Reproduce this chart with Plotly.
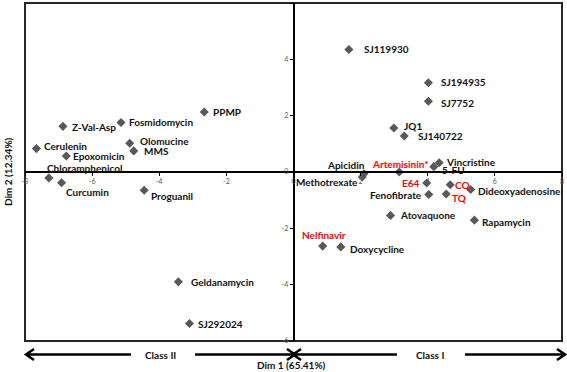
import plotly.graph_objects as go

# ---------------- data ----------------
names = ["PPMP", "Fosmidomycin", "Z-Val-Asp", "Cerulenin", "Epoxomicin", "Olomucine", "MMS",
         "Chloramphenicol", "Curcumin", "Proguanil", "Geldanamycin", "SJ292024",
         "SJ119930", "SJ194935", "SJ7752", "JQ1", "SJ140722", "Vincristine", "5-FU",
         "Artemisinin*", "Apicidin", "Methotrexate", "E64", "CQ", "Dideoxyadenosine",
         "Fenofibrate", "TQ", "Atovaquone", "Rapamycin", "Nelfinavir", "Doxycycline"]
dim1 = [-2.66, -5.14, -6.87, -7.66, -6.77, -4.88, -4.76,
        -7.29, -6.91, -4.45, -3.43, -3.10,
        1.65, 4.02, 4.02, 2.99, 3.30, 4.34, 4.18,
        3.15, 2.10, 2.05, 3.97, 4.67, 5.28,
        4.03, 4.55, 2.89, 5.39, 0.87, 1.41]
dim2 = [2.13, 1.76, 1.62, 0.83, 0.57, 1.02, 0.75,
        -0.21, -0.38, -0.65, -3.90, -5.38,
        4.35, 3.17, 2.51, 1.56, 1.28, 0.33, 0.19,
        0.00, -0.06, -0.18, -0.39, -0.45, -0.62,
        -0.80, -0.78, -1.54, -1.71, -2.63, -2.66]
highlighted = ["Artemisinin*", "E64", "CQ", "TQ", "Nelfinavir"]
x_ticks = [-8, -6, -4, -2, 0, 2, 4, 6, 8]
y_ticks = [-6, -4, -2, 0, 2, 4, 6]

# ---------------- label placement (style) ----------------
# name: (xanchor, xshift, yshift)
placement = {
    "PPMP": ("left", 7, 0), "Fosmidomycin": ("left", 6, 0), "Z-Val-Asp": ("left", 7, -1),
    "Cerulenin": ("left", 6, 3), "Epoxomicin": ("left", 5, 0), "Olomucine": ("left", 8, 2),
    "MMS": ("left", 8, 0), "Chloramphenicol": ("left", -4, 10), "Curcumin": ("left", 2, -9),
    "Proguanil": ("left", 5, -6), "Geldanamycin": ("left", 11, 0), "SJ292024": ("left", 7, 0),
    "SJ119930": ("left", 13, 0), "SJ194935": ("left", 11, 1), "SJ7752": ("left", 11, -1.5),
    "JQ1": ("left", 8, 2), "SJ140722": ("left", 12, 0), "Vincristine": ("left", 5, 1),
    "5-FU": ("left", 6, -3), "Artemisinin*": ("center", 1, 8), "Apicidin": ("right", 3, 9),
    "Methotrexate": ("right", -2, -5), "E64": ("right", -5, 0), "CQ": ("left", 3, 0),
    "Dideoxyadenosine": ("left", 5, -2), "Fenofibrate": ("right", -5, 0), "TQ": ("left", 4, -4),
    "Atovaquone": ("left", 7, 0), "Rapamycin": ("left", 6, -2), "Nelfinavir": ("center", 1, 11),
    "Doxycycline": ("left", 7, -2),
}

LABEL_FONT = dict(family="Lato, Carlito, sans-serif", size=10, color="#111111", weight="bold")
TICK_FONT = dict(family="Lato, sans-serif", size=7, color="#595959")

fig = go.Figure()
fig.add_trace(go.Scatter(
    x=dim1, y=dim2, mode="markers",
    marker=dict(symbol="diamond", size=7, color="#595959"),
    hoverinfo="text", text=names, showlegend=False,
))

annotations = []
for n, xv, yv in zip(names, dim1, dim2):
    xa, xs, ys = placement[n]
    f = dict(LABEL_FONT)
    if n in highlighted:
        f["color"] = "#ff0000"
    annotations.append(dict(x=xv, y=yv, xref="x", yref="y", text=n, showarrow=False,
                            xanchor=xa, yanchor="middle", xshift=xs, yshift=ys, font=f))

# plot area geometry helpers (pixels -> paper)
L, R, T, B = 25, 562, 3, 341
def fx(px):
    return (px - L) / (R - L)
def fy(py):
    return (B - py) / (B - T)

# axis titles / class labels
annotations.append(dict(x=fx(8), y=0.5, xref="paper", yref="paper", text="Dim 2 (12.34%)",
                        textangle=-90, showarrow=False, font=LABEL_FONT,
                        xanchor="center", yanchor="middle"))
annotations.append(dict(x=fx(291), y=fy(365), xref="paper", yref="paper", text="Dim 1 (65.41%)",
                        showarrow=False, font=LABEL_FONT, xanchor="center", yanchor="middle"))
annotations.append(dict(x=fx(160), y=fy(354.5), xref="paper", yref="paper", text="Class II",
                        showarrow=False, font=LABEL_FONT, xanchor="center", yanchor="middle"))
annotations.append(dict(x=fx(430), y=fy(354.5), xref="paper", yref="paper", text="Class I",
                        showarrow=False, font=LABEL_FONT, xanchor="center", yanchor="middle"))

# arrows (decorations)
ay = 354.5
def arrow_path(x_from, x_tip, direction):
    w = 8 * direction  # wing back offset
    return (f"M {fx(x_from)},{fy(ay)} L {fx(x_tip)},{fy(ay)} "
            f"M {fx(x_tip - w)},{fy(ay - 5.5)} L {fx(x_tip)},{fy(ay)} L {fx(x_tip - w)},{fy(ay + 5.5)}")

shapes = [
    dict(type="rect", xref="paper", yref="paper", x0=0, x1=1, y0=0, y1=1,
         line=dict(color="#262626", width=2), fillcolor="rgba(0,0,0,0)", layer="below"),
]
for x_from, x_tip, d in [(131, 26, -1), (195, 295, 1), (397, 293, -1), (465, 565, 1)]:
    shapes.append(dict(type="path", xref="paper", yref="paper", path=arrow_path(x_from, x_tip, d),
                       line=dict(color="black", width=2.5)))

fig.update_layout(
    width=567, height=372,
    margin=dict(l=L, r=567 - R, t=T, b=372 - B),
    paper_bgcolor="white", plot_bgcolor="white",
    xaxis=dict(range=[-8, 8], tickvals=x_ticks, ticktext=[str(v) for v in x_ticks],
               anchor="free", position=0.5, showline=True, linecolor="black", linewidth=1.5,
               ticks="outside", ticklen=3, tickcolor="black", tickfont=TICK_FONT,
               showgrid=False, zeroline=False, fixedrange=True),
    yaxis=dict(range=[-6, 6], tickvals=y_ticks, ticktext=[str(v) for v in y_ticks],
               anchor="free", position=0.5, showline=True, linecolor="black", linewidth=1.5,
               ticks="outside", ticklen=3, tickcolor="black", tickfont=TICK_FONT,
               showgrid=False, zeroline=False, fixedrange=True),
    annotations=annotations, shapes=shapes, showlegend=False,
)

fig.write_html("out.html", config={"displayModeBar": False},
               post_script="document.body.style.margin='0';document.body.style.overflow='hidden';")
